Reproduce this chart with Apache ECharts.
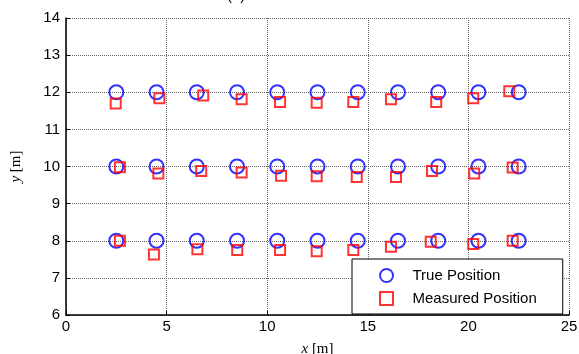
<!DOCTYPE html>
<html>
<head>
<meta charset="utf-8">
<script src="https://cdn.jsdelivr.net/npm/echarts@6/dist/echarts.min.js"></script>
<style>
  html, body { margin: 0; padding: 0; background: #fff; }
  #chart { width: 579px; height: 354px; }
</style>
</head>
<body>
<div id="chart"></div>
<script>
// true grid positions (m)
const trueX = [2.5, 4.5, 6.5, 8.5, 10.5, 12.5, 14.5, 16.5, 18.5, 20.5, 22.5]
const trueRows = [8, 10, 12]

// measured positions, one row per true y
const measX8 = [2.68, 4.37, 6.53, 8.51, 10.64, 12.46, 14.28, 16.15, 18.13, 20.24, 22.2]
const measY8 = [8.0, 7.63, 7.77, 7.75, 7.75, 7.72, 7.75, 7.84, 7.97, 7.91, 8.0]
const measX10 = [2.68, 4.59, 6.72, 8.73, 10.69, 12.46, 14.45, 16.4, 18.19, 20.29, 22.2]
const measY10 = [9.98, 9.81, 9.88, 9.84, 9.75, 9.74, 9.72, 9.72, 9.88, 9.81, 9.97]
const measX12 = [2.47, 4.64, 6.82, 8.73, 10.64, 12.46, 14.28, 16.15, 18.4, 20.24, 22.03]
const measY12 = [11.7, 11.84, 11.91, 11.81, 11.74, 11.72, 11.74, 11.81, 11.74, 11.84, 12.03]

const trueData = []
trueRows.forEach(y => trueX.forEach(x => trueData.push([x, y])))
const measData = []
;[[measX8, measY8], [measX10, measY10], [measX12, measY12]].forEach(([xs, ys]) =>
  xs.forEach((x, i) => measData.push([x, ys[i]])))

const TICK_FONT = { color: '#000', fontSize: 15, fontFamily: 'Liberation Sans' }
const GRID_LINE = { show: true, lineStyle: { color: '#666', type: [1, 1], width: 1 } }
const NAME_STYLE = {
  color: '#000', fontSize: 15, fontFamily: 'Liberation Serif',
  rich: { i: { fontStyle: 'italic', fontSize: 15, fontFamily: 'Liberation Serif' } }
}

const chart = echarts.init(document.getElementById('chart'))
chart.setOption({
  animation: false,
  title: {
    text: '(a)', left: 222, top: -17,
    textStyle: { fontSize: 15, fontWeight: 'normal', color: '#000', fontFamily: 'Liberation Sans' }
  },
  grid: { left: 66, right: 10, top: 18, bottom: 39, outerBoundsMode: 'none' },
  xAxis: {
    type: 'value', min: 0, max: 25, interval: 5,
    name: '{i|x} [m]', nameLocation: 'middle', nameGap: 27,
    nameTextStyle: NAME_STYLE,
    axisLine: { show: true, onZero: false, lineStyle: { color: '#000', width: 1.5 } },
    axisTick: { show: true, inside: true, length: 4, lineStyle: { color: '#000' } },
    axisLabel: { ...TICK_FONT, margin: 4 },
    splitLine: GRID_LINE
  },
  yAxis: {
    type: 'value', min: 6, max: 14, interval: 1,
    name: '{i|y} [m]', nameLocation: 'middle', nameGap: 42, nameRotate: 90,
    nameTextStyle: NAME_STYLE,
    axisLine: { show: true, onZero: false, lineStyle: { color: '#000', width: 1.5 } },
    axisTick: { show: true, inside: true, length: 4, lineStyle: { color: '#000' } },
    axisLabel: { ...TICK_FONT, margin: 6 },
    splitLine: GRID_LINE
  },
  legend: {
    orient: 'vertical', left: 352, top: 259,
    backgroundColor: '#fff', borderColor: '#000', borderWidth: 1,
    padding: [9, 26, 8, 27], itemGap: 8, itemWidth: 14, itemHeight: 13,
    textStyle: { color: '#000', fontSize: 15, fontFamily: 'Liberation Sans', padding: [0, 0, 0, 14] },
    data: [
      { name: 'True Position' },
      { name: 'Measured Position', icon: 'path://M1,1H11V11H1Z' }
    ]
  },
  series: [
    {
      name: 'True Position', type: 'scatter', symbol: 'circle', symbolSize: 14,
      itemStyle: { color: 'rgba(0,0,0,0)', borderColor: '#0000ff', borderWidth: 2 },
      data: trueData, z: 2
    },
    {
      name: 'Measured Position', type: 'scatter', symbol: 'rect', symbolSize: 10,
      itemStyle: { color: 'rgba(0,0,0,0)', borderColor: '#ff0000', borderWidth: 2 },
      data: measData, z: 3
    }
  ]
})
window.addEventListener('resize', () => chart.resize())
</script>
</body>
</html>
